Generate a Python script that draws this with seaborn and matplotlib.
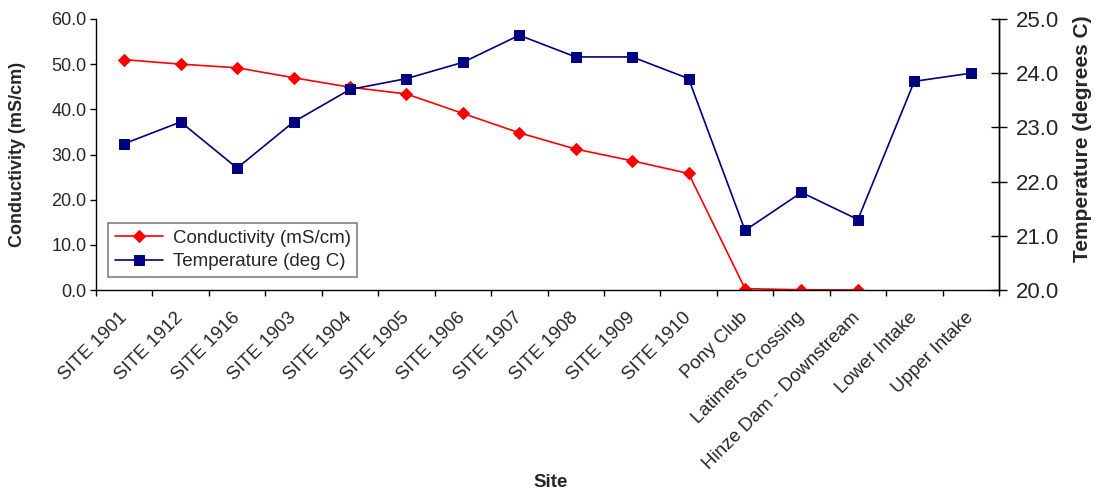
import numpy as np
import pandas as pd
import matplotlib
matplotlib.use("Agg")
import matplotlib.pyplot as plt
import matplotlib.transforms as mtransforms
from matplotlib.ticker import FixedLocator, FormatStrFormatter
import seaborn as sns

# Sampling sites along the river
sites = [
    "SITE 1901", "SITE 1912", "SITE 1916", "SITE 1903", "SITE 1904",
    "SITE 1905", "SITE 1906", "SITE 1907", "SITE 1908", "SITE 1909",
    "SITE 1910", "Pony Club", "Latimers Crossing", "Hinze Dam - Downstream",
    "Lower Intake", "Upper Intake",
]

# Conductivity (mS/cm); not measured at the two intakes
conductivity = [51.0, 50.0, 49.2, 47.0, 44.9, 43.4, 39.1, 34.8, 31.2, 28.6,
                25.8, 0.3, 0.05, 0.0, np.nan, np.nan]

# Water temperature (deg C)
temperature = [22.7, 23.1, 22.25, 23.1, 23.7, 23.9, 24.2, 24.7, 24.3, 24.3,
               23.9, 21.1, 21.8, 21.3, 23.85, 24.0]

df = pd.DataFrame({
    "pos": np.arange(len(sites)),
    "site": sites,
    "conductivity": conductivity,
    "temperature": temperature,
})

sns.set_theme(style="white")
plt.rcParams["font.family"] = ["Liberation Sans", "DejaVu Sans"]

fig = plt.figure(figsize=(10.96, 4.96), dpi=100)
ax = fig.add_axes([0.0876, 0.4153, 0.8239, 0.5464])
ax2 = ax.twinx()

sns.lineplot(data=df.dropna(subset=["conductivity"]), x="pos", y="conductivity",
             ax=ax, color="#FF0000", marker="D", markersize=6.5,
             markeredgecolor="#FF0000", linewidth=1.2,
             label="Conductivity (mS/cm)")
sns.lineplot(data=df, x="pos", y="temperature", ax=ax2, color="#000080",
             marker="s", markersize=7.5, markeredgecolor="#000080",
             linewidth=1.2, label="Temperature (deg C)")

for a in (ax, ax2):
    if a.get_legend() is not None:
        a.get_legend().remove()

# Axis ranges
ax.set_xlim(-0.5, len(sites) - 0.5)
ax.set_ylim(0, 60)
ax2.set_ylim(20, 25)
ax.set_yticks(np.arange(0, 61, 10))
ax2.set_yticks(np.arange(20, 25.1, 1))
ax.yaxis.set_major_formatter(FormatStrFormatter("%.1f"))
ax2.yaxis.set_major_formatter(FormatStrFormatter("%.1f"))

# Category labels at centres, tick marks at category boundaries
ax.set_xticks(df["pos"])
ax.set_xticklabels(sites, rotation=45, ha="right", va="center",
                   rotation_mode="anchor", fontsize=13.5)
shift = mtransforms.ScaledTranslation(-0.06, 0.02, fig.dpi_scale_trans)
for lbl in ax.get_xticklabels():
    lbl.set_transform(lbl.get_transform() + shift)
ax.xaxis.set_minor_locator(FixedLocator(np.arange(-0.5, len(sites), 1.0)))
ax.tick_params(axis="x", which="major", length=0, pad=18)
ax.tick_params(axis="x", which="minor", length=4, width=1, direction="out",
               color="black", bottom=True)
ax.tick_params(axis="y", length=4, width=1, direction="out", color="black",
               labelsize=13, pad=3, left=True)
ax2.tick_params(axis="y", length=11, width=1, direction="inout", color="black",
                labelsize=16, pad=7, right=True)

for a in (ax, ax2):
    for side, sp in a.spines.items():
        sp.set_color("black")
        sp.set_linewidth(1.0)
    a.spines["top"].set_visible(False)
    a.grid(False)
ax2.spines["left"].set_visible(False)
ax2.spines["bottom"].set_visible(False)

ax.set_xlabel("Site", fontsize=13.5, fontweight="bold")
ax.set_ylabel("Conductivity (mS/cm)", fontsize=13, fontweight="bold")
ax2.set_ylabel("Temperature (degrees C)", fontsize=15, fontweight="bold")
ax.xaxis.set_label_coords(0.503, -0.68)
ax.yaxis.set_label_coords(-0.0775, 0.5)
ax2.yaxis.set_label_coords(1.082, 0.557)

h1, l1 = ax.get_legend_handles_labels()
h2, l2 = ax2.get_legend_handles_labels()
leg = ax2.legend(h1 + h2, l1 + l2, loc="lower left",
                 bbox_to_anchor=(0.0133, 0.048), borderaxespad=0,
                 fontsize=13.5, frameon=True, fancybox=False, framealpha=1,
                 edgecolor="#808080", handlelength=2.6, labelspacing=0.35,
                 borderpad=0.35, handletextpad=0.5)
leg.get_frame().set_linewidth(1.2)

fig.savefig("out.png", dpi=100)
